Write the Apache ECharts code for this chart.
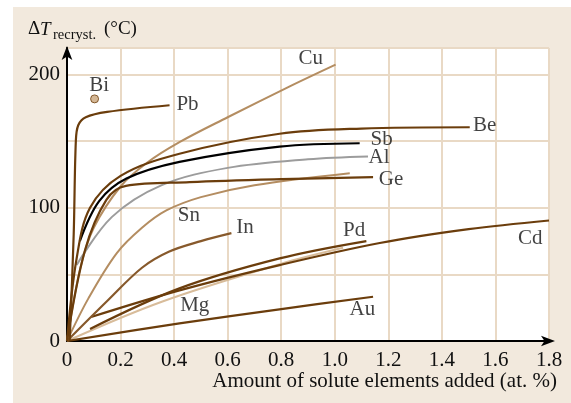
<!DOCTYPE html>
<html>
<head>
<meta charset="utf-8">
<script src="https://cdn.jsdelivr.net/npm/echarts@6/dist/echarts.min.js"></script>
<style>
  html, body { margin: 0; padding: 0; background: #ffffff; }
  #chart { width: 571px; height: 403px; }
</style>
</head>
<body>
<div id="chart"></div>
<script>
// Rise in recrystallization temperature vs. solute content (at. %)
const xTickValues = [0, 0.2, 0.4, 0.6, 0.8, 1.0, 1.2, 1.4, 1.6, 1.8];
const yTickLabels = [0, 100, 200];

const pb = [[0.01, 0], [0.025, 80], [0.033, 150], [0.042, 162], [0.07, 168], [0.15, 172], [0.383, 177]];
const cu = [[0, 0], [0.05, 55], [0.1, 85], [0.2, 116], [0.3, 134], [0.42, 149.3], [0.6, 168], [0.83, 191], [1.003, 207.5]];
const be = [[0, 0], [0.036, 62], [0.086, 100], [0.2, 124], [0.42, 140.6], [0.794, 155.6], [1.1, 159.5], [1.504, 160.5]];
const sb = [[0.048, 75], [0.12, 105], [0.222, 122], [0.42, 134.5], [0.794, 146], [1.093, 148.5]];
const al = [[0.036, 57], [0.167, 93], [0.354, 117], [0.6, 130], [0.9, 136.5], [1.124, 138.6]];
const ge = [[0, 0], [0.067, 68], [0.147, 106], [0.22, 116.5], [0.458, 119.3], [0.8, 121.5], [1.143, 123]];
const sn = [[0, 0], [0.08, 32], [0.186, 66], [0.28, 85], [0.371, 98], [0.5, 108], [0.7, 117], [1.056, 126]];
const inn = [[0, 0], [0.15, 30], [0.28, 55], [0.38, 67], [0.5, 75], [0.614, 81]];
const pd = [[0.086, 9], [0.42, 39.5], [0.794, 62], [1.118, 75]];
const cd = [[0.09, 18], [0.42, 38], [0.794, 57], [1.168, 73.6], [1.5, 84], [1.8, 90.5]];
const mg = [[0, 0], [0.354, 29.5], [0.8, 58], [1.031, 70]];
const au = [[0, 0], [0.42, 13.2], [0.8, 24], [1.143, 33.2]];
const bi = [[0.103, 181.8]];

// element name and where its tag sits (x in at. %, y in °C)
const tagNames = ['Bi', 'Pb', 'Cu', 'Be', 'Sb', 'Al', 'Ge', 'Sn', 'In', 'Pd', 'Cd', 'Mg', 'Au'];
const tagX = [0.12, 0.45, 0.91, 1.56, 1.175, 1.165, 1.21, 0.455, 0.665, 1.072, 1.73, 0.477, 1.103];
const tagY = [192, 177.5, 212, 161.5, 151.5, 137.5, 121, 94.5, 85, 83, 77, 26.5, 23.5];

const DARK = '#6b3d0c';
const TAN = '#b48d61';
const PALE = '#d8bc9a';
const MID = '#87592b';
const GRAY = '#9c9c9c';
const SERIF = '"Liberation Serif", "Times New Roman", serif';

function curve(name, data, color, width) {
  return {
    name: name,
    type: 'line',
    data: data,
    showSymbol: false,
    smooth: 0.35,
    lineStyle: { color: color, width: width },
    silent: true,
    z: 3
  };
}

const series = [
  curve('Mg', mg, PALE, 2),
  curve('Sn', sn, TAN, 2),
  curve('Cu', cu, TAN, 2),
  curve('Al', al, GRAY, 2),
  curve('Au', au, DARK, 2.2),
  curve('Cd', cd, DARK, 2.2),
  curve('Pd', pd, DARK, 2.2),
  curve('In', inn, MID, 2.2),
  curve('Ge', ge, DARK, 2.2),
  curve('Sb', sb, '#000000', 2.2),
  curve('Be', be, DARK, 2.2),
  curve('Pb', pb, DARK, 2.2),
  {
    name: 'Bi',
    type: 'scatter',
    data: bi,
    symbol: 'circle',
    symbolSize: 8,
    itemStyle: { color: '#c9a57b', borderColor: DARK, borderWidth: 1 },
    silent: true,
    z: 4
  },
  {
    name: 'tags',
    type: 'scatter',
    data: tagNames.map((n, i) => ({ name: n, value: [tagX[i], tagY[i]] })),
    symbolSize: 0,
    silent: true,
    label: {
      show: true,
      position: 'inside',
      formatter: p => p.name,
      color: '#111111',
      fontFamily: SERIF,
      fontSize: 21
    },
    z: 5
  }
];

const chart = echarts.init(document.getElementById('chart'), null, { renderer: 'canvas' });
chart.setOption({
  animation: false,
  backgroundColor: 'transparent',
  graphic: [
    {
      type: 'rect',
      z: -10,
      silent: true,
      shape: { x: 13, y: 7, width: 558, height: 396 },
      style: { fill: '#f2e9dd' }
    },
    {
      type: 'text',
      left: 28, top: 20,
      silent: true,
      style: { text: 'Δ', font: '19px ' + SERIF, fill: '#111' }
    },
    {
      type: 'text',
      left: 40, top: 20,
      silent: true,
      style: { text: 'T', font: 'italic 19px ' + SERIF, fill: '#111' }
    },
    {
      type: 'text',
      left: 53, top: 28,
      silent: true,
      style: { text: 'recryst.', font: '14.5px ' + SERIF, fill: '#111' }
    },
    {
      type: 'text',
      left: 104, top: 20,
      silent: true,
      style: { text: '(°C)', font: '19px ' + SERIF, fill: '#111' }
    },
    {
      type: 'text',
      right: 14, top: 371,
      silent: true,
      style: { text: 'Amount of solute elements added (at. %)', font: '21px ' + SERIF, fill: '#111' }
    }
  ],
  grid: {
    left: 67, right: 22, top: 48, bottom: 62,
    show: true,
    backgroundColor: '#ffffff',
    borderWidth: 0
  },
  xAxis: {
    type: 'value',
    min: 0, max: 1.8, interval: 0.2,
    axisLine: {
      show: true, onZero: false,
      symbol: ['none', 'arrow'], symbolSize: [8, 14], symbolOffset: [0, 6],
      lineStyle: { color: '#000', width: 2 }
    },
    axisTick: { show: false },
    splitLine: { show: true, lineStyle: { color: '#e9d9c5', width: 2 } },
    axisLabel: {
      margin: 9,
      color: '#111',
      fontFamily: SERIF,
      fontSize: 21,
      formatter: v => {
        const t = xTickValues.find(k => Math.abs(k - v) < 1e-6);
        if (t === undefined) return '';
        return t === 0 ? '0' : t.toFixed(1);
      }
    }
  },
  yAxis: {
    type: 'value',
    min: 0, max: 220, interval: 50,
    axisLine: {
      show: true, onZero: false,
      symbol: ['none', 'arrow'], symbolSize: [8, 14], symbolOffset: [0, 2],
      lineStyle: { color: '#000', width: 2 }
    },
    axisTick: { show: false },
    splitLine: { show: true, lineStyle: { color: '#e9d9c5', width: 2 } },
    axisLabel: {
      margin: 7,
      color: '#111',
      fontFamily: SERIF,
      fontSize: 21,
      showMaxLabel: false,
      formatter: v => (yTickLabels.indexOf(v) >= 0 ? String(v) : '')
    }
  },
  series: series
});
</script>
</body>
</html>
